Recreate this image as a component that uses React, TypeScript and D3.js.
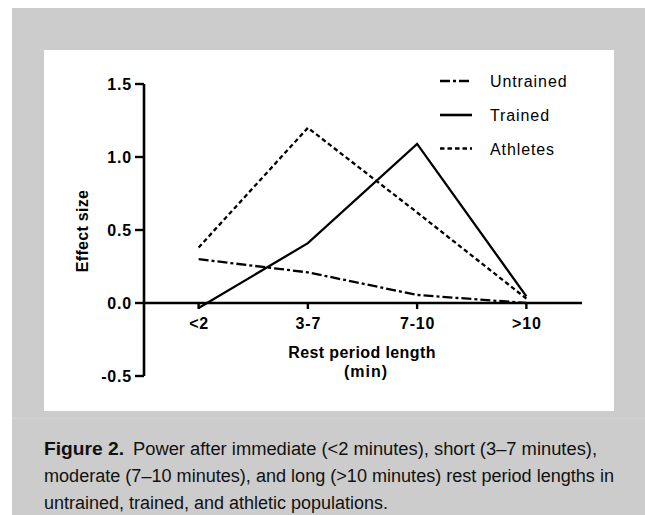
import * as d3 from "d3";

const CATEGORIES = ["<2", "3-7", "7-10", ">10"];
const UNTRAINED = [0.3, 0.21, 0.055, 0.0];
const TRAINED = [-0.035, 0.41, 1.09, 0.045];
const ATHLETES = [0.38, 1.2, 0.62, 0.03];
const Y_TICKS = [-0.5, 0, 0.5, 1.0, 1.5];

const SERIES = [
  { name: "Untrained", values: UNTRAINED, dash: "10,3,3,3" },
  { name: "Trained", values: TRAINED, dash: null },
  { name: "Athletes", values: ATHLETES, dash: "4.5,3" },
];

const CAPTION_BOLD = "Figure 2.";
const CAPTION_LINES = [
  "Power after immediate (<2 minutes), short (3\u20137 minutes),",
  "moderate (7\u201310 minutes), and long (>10 minutes) rest period lengths in",
  "untrained, trained, and athletic populations.",
];

const FONT = "'Liberation Sans', Arial, Helvetica, sans-serif";

export default function App() {
  const W = 645;
  const H = 515;

  // plot frame
  const axisX = 144;
  const axisRight = 581;
  const yTop = 84;
  const yBottom = 376;

  const x = d3.scalePoint<string>().domain(CATEGORIES).range([axisX, axisRight]).padding(0.5);
  const y = d3.scaleLinear().domain([-0.5, 1.5]).range([yBottom, yTop]);
  const y0 = y(0);

  const line = d3
    .line<number>()
    .x((_, i) => x(CATEGORIES[i]) as number)
    .y((d) => y(d));

  // legend layout
  const legend = { x1: 440, x2: 472, textX: 490, rows: [81, 115, 148.5] };

  return (
    <svg
      width={W}
      height={H}
      style={{ position: "absolute", left: 0, top: 0 }}
      fontFamily={FONT}
    >
      {/* gray page + white chart panel */}
      <rect x={12} y={8} width={W - 12} height={H - 8} fill="#cccccc" />
      <rect x={44} y={50} width={570} height={361} fill="#ffffff" />
      <line x1={12} x2={W} y1={418.5} y2={418.5} stroke="#d3d3d3" strokeWidth={1} />

      {/* y axis */}
      <line x1={axisX} x2={axisX} y1={yTop} y2={yBottom} stroke="#000" strokeWidth={2.6} />
      {Y_TICKS.map((t) => (
        <g key={t}>
          <line x1={axisX - 9} x2={axisX} y1={y(t)} y2={y(t)} stroke="#000" strokeWidth={2.4} />
          <text
            x={axisX - 12}
            y={y(t) + 5.8}
            textAnchor="end"
            fontSize={16}
            fontWeight="bold"
            letterSpacing={0.8}
          >
            {t.toFixed(1)}
          </text>
        </g>
      ))}
      <text
        transform={`translate(88,231) rotate(-90)`}
        textAnchor="middle"
        fontSize={16}
        fontWeight="bold"
        letterSpacing={0.3}
      >
        Effect size
      </text>

      {/* x axis */}
      <line x1={axisX} x2={axisRight + 1} y1={y0} y2={y0} stroke="#000" strokeWidth={2.6} />
      {CATEGORIES.map((c) => (
        <g key={c}>
          <line x1={x(c)} x2={x(c)} y1={y0} y2={y0 + 6} stroke="#000" strokeWidth={2.4} />
          <text
            x={(x(c) as number) + 0.5}
            y={329}
            textAnchor="middle"
            fontSize={16}
            fontWeight="bold"
            letterSpacing={0.8}
          >
            {c}
          </text>
        </g>
      ))}
      <text x={362} y={358} textAnchor="middle" fontSize={16} fontWeight="bold" letterSpacing={0.4}>
        Rest period length
      </text>
      <text x={366} y={377} textAnchor="middle" fontSize={16} fontWeight="bold" letterSpacing={1}>
        (min)
      </text>

      {/* series */}
      {SERIES.map((s) => (
        <path
          key={s.name}
          d={line(s.values) ?? undefined}
          fill="none"
          stroke="#000"
          strokeWidth={2.3}
          strokeDasharray={s.dash ?? undefined}
          strokeLinejoin="miter"
        />
      ))}

      {/* legend */}
      {SERIES.map((s, i) => (
        <g key={s.name}>
          <line
            x1={legend.x1}
            x2={legend.x2}
            y1={legend.rows[i]}
            y2={legend.rows[i]}
            stroke="#000"
            strokeWidth={2.6}
            strokeDasharray={s.dash ?? undefined}
          />
          <text x={legend.textX} y={legend.rows[i] + 6} fontSize={16} letterSpacing={0.9}>
            {s.name}
          </text>
        </g>
      ))}

      {/* caption */}
      <g fill="#111" fontSize={18}>
        <text x={44} y={455} fontWeight="bold" textLength={80} lengthAdjust="spacingAndGlyphs">
          {CAPTION_BOLD}
        </text>
        <text x={133} y={455} textLength={464} lengthAdjust="spacingAndGlyphs">
          {CAPTION_LINES[0]}
        </text>
        <text x={44} y={482} textLength={570} lengthAdjust="spacingAndGlyphs">
          {CAPTION_LINES[1]}
        </text>
        <text x={44} y={509} textLength={344} lengthAdjust="spacingAndGlyphs">
          {CAPTION_LINES[2]}
        </text>
      </g>
    </svg>
  );
}
